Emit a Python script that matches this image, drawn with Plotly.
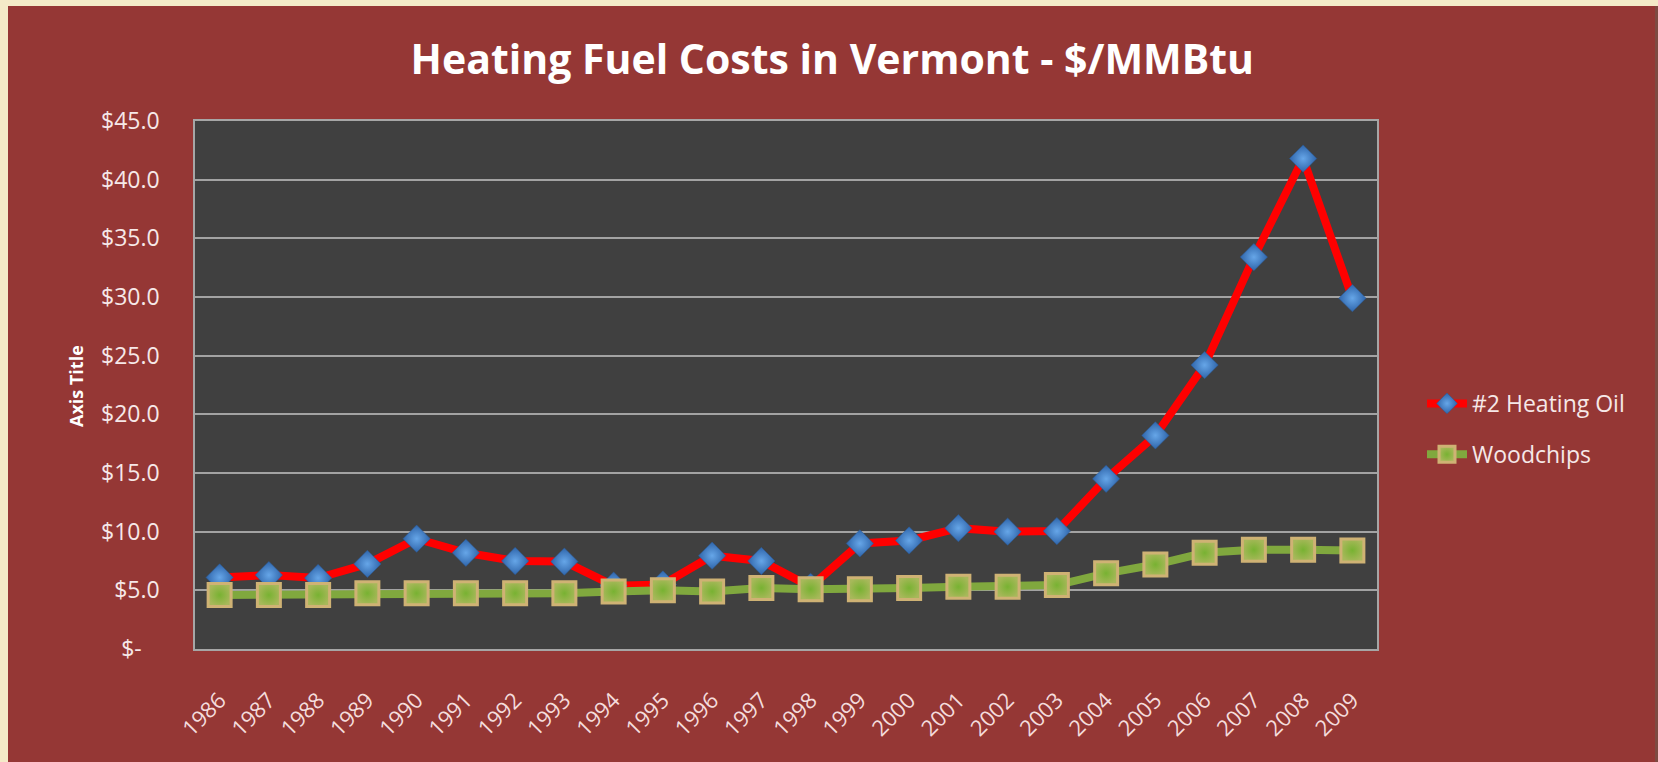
import plotly.graph_objects as go

years = [str(y) for y in range(1986, 2010)]
heating_oil = [6.1, 6.3, 6.05, 7.25, 9.4, 8.2, 7.5, 7.45, 5.4, 5.5, 7.95, 7.5,
               5.3, 9.0, 9.25, 10.3, 10.0, 10.05, 14.5, 18.2, 24.2, 33.4, 41.8, 29.9]
woodchips = [4.6, 4.6, 4.6, 4.75, 4.75, 4.75, 4.75, 4.75, 4.9, 5.0, 4.9, 5.2,
             5.1, 5.1, 5.2, 5.3, 5.3, 5.45, 6.45, 7.2, 8.2, 8.45, 8.45, 8.4]
y_ticks = [0, 5, 10, 15, 20, 25, 30, 35, 40, 45]
y_tick_labels = ["$-\u00a0\u00a0\u00a0", "$5.0", "$10.0", "$15.0", "$20.0", "$25.0",
                 "$30.0", "$35.0", "$40.0", "$45.0"]

W, H = 1658, 762
L, R, T, B = 195, 1377, 121, 649   # plot area in px

def px_x(px):
    return (px - L) / (R - L)

def px_y(py):
    return (B - py) / (B - T)

RED = "#953735"
BEIGE = "#F4EAC8"
FONT = "Open Sans"

fig = go.Figure()
fig.add_trace(go.Scatter(
    x=years, y=heating_oil, name="#2 Heating Oil", mode="lines+markers",
    legendgroup="a",
    line=dict(color="#FF0000", width=8),
    marker=dict(symbol="diamond", size=21, color="#2F65AA",
                gradient=dict(type="radial", color="#66A6E8"),
                line=dict(color="#2A5B98", width=0.5)),
))
fig.add_trace(go.Scatter(
    x=years, y=woodchips, name="Woodchips", mode="lines+markers",
    legendgroup="b",
    line=dict(color="#80A83E", width=8),
    marker=dict(symbol="square", size=23, color="#A7B85A",
                gradient=dict(type="radial", color="#78B232"),
                line=dict(color="#CFB274", width=3)),
))

fig.update_layout(
    width=W, height=H,
    margin=dict(l=L, r=W - R, t=T, b=H - B, pad=0),
    paper_bgcolor=RED,
    plot_bgcolor="#404040",
    font=dict(family=FONT, color="#F6E8E8"),
    title=dict(text="<b>Heating Fuel Costs in Vermont - $/MMBtu</b>",
               x=0.502, xref="container", xanchor="center",
               y=1 - 60 / H, yref="container", yanchor="middle",
               font=dict(family=FONT, size=41, color="#FFFFFF")),
    showlegend=True,
    legend=dict(x=px_x(1422), xanchor="left", y=px_y(429), yanchor="middle",
                bgcolor="rgba(0,0,0,0)", font=dict(family=FONT, size=23, color="#F6E8E8"),
                tracegroupgap=18, itemwidth=40),
    xaxis=dict(type="category", range=[-0.5, 23.5], tickangle=-45,
               showgrid=False, showline=True, linecolor="#A6A6A6", linewidth=1.5,
               mirror=True, ticks="", ticklabelstandoff=28,
               tickfont=dict(family=FONT, size=22, color="#F4DCDC"), zeroline=False),
    yaxis=dict(range=[0, 45], tickvals=y_ticks, ticktext=y_tick_labels,
               showgrid=True, gridcolor="#A3A3A3", gridwidth=1.5,
               showline=True, linecolor="#A6A6A6", linewidth=1.5, mirror=True,
               ticks="", ticklabelstandoff=29, zeroline=False,
               tickfont=dict(family=FONT, size=23, color="#F6E8E8")),
    annotations=[dict(text="<b>Axis Title</b>", x=px_x(62), y=px_y(386),
                      xref="paper", yref="paper", textangle=-90, showarrow=False,
                      font=dict(family=FONT, size=18, color="#FFFFFF"))],
    shapes=[
        dict(type="rect", xref="paper", yref="paper", x0=px_x(0), x1=px_x(8),
             y0=px_y(H), y1=px_y(0), fillcolor=BEIGE, line=dict(width=0), layer="above"),
        dict(type="rect", xref="paper", yref="paper", x0=px_x(0), x1=px_x(W),
             y0=px_y(6), y1=px_y(0), fillcolor=BEIGE, line=dict(width=0), layer="above"),
        dict(type="rect", xref="paper", yref="paper", x0=px_x(W - 3), x1=px_x(W),
             y0=px_y(H), y1=px_y(6), fillcolor="#7E4A42", line=dict(width=0), layer="above"),
    ],
)

fig.write_html(
    "out.html",
    config={"displayModeBar": False},
    post_script="document.body.style.margin='0';document.body.style.padding='0';"
                "document.documentElement.style.overflow='hidden';",
)
